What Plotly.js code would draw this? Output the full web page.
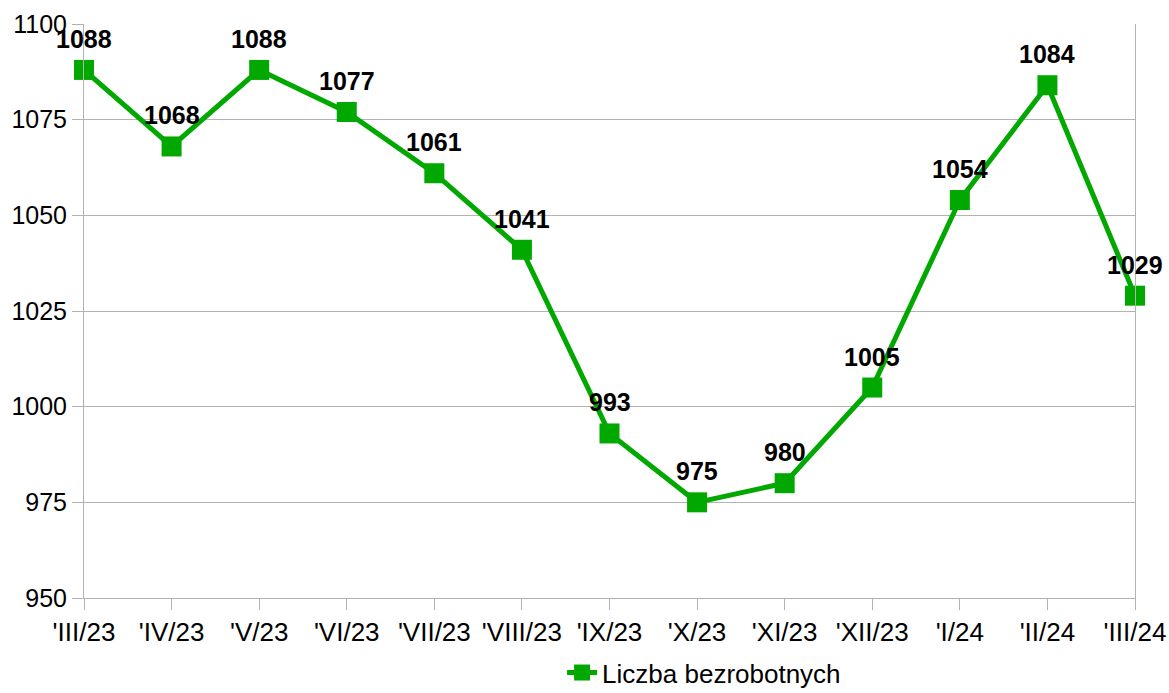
<!DOCTYPE html>
<html>
<head>
<meta charset="utf-8">
<script src="https://cdn.plot.ly/plotly-3.0.1.min.js"></script>
<style>html,body{margin:0;padding:0;background:#fff;}#chart{width:1169px;height:693px;}</style>
</head>
<body>
<div id="chart"></div>
<script>
const categories = ["'III/23","'IV/23","'V/23","'VI/23","'VII/23","'VIII/23","'IX/23","'X/23","'XI/23","'XII/23","'I/24","'II/24","'III/24"];
const values = [1088,1068,1088,1077,1061,1041,993,975,980,1005,1054,1084,1029];
const seriesName = "Liczba bezrobotnych";
const yTicks = [950,975,1000,1025,1050,1075,1100];

const green = "#00a800";
const font = "Liberation Sans, Arial, sans-serif";

const trace = {
  x: categories,
  y: values,
  type: "scatter",
  mode: "lines+markers",
  name: seriesName,
  line: {color: green, width: 5},
  marker: {symbol: "square", size: 20, color: green},
  cliponaxis: false
};

const annotations = categories.map((c, i) => ({
  x: c, y: values[i], xref: "x", yref: "y",
  text: String(values[i]), showarrow: false, yshift: 31,
  font: {family: font, size: 25, color: "#000", weight: "bold"}
}));

const layout = {
  width: 1169, height: 693,
  margin: {l: 84, r: 34, t: 24, b: 95, autoexpand: false},
  paper_bgcolor: "#fff", plot_bgcolor: "#fff",
  showlegend: true,
  legend: {orientation: "h", x: 0.59, xanchor: "center", y: -0.13, yanchor: "middle",
           font: {family: font, size: 26, color: "#000"}},
  xaxis: {
    type: "category", range: [0, categories.length - 1],
    showgrid: false, showline: true, linecolor: "#b3b3b3", linewidth: 1,
    ticks: "outside", ticklen: 11, tickcolor: "#b3b3b3",
    tickfont: {family: font, size: 26, color: "#000"}, zeroline: false
  },
  yaxis: {
    range: [950, 1100], tickvals: yTicks,
    showgrid: true, gridcolor: "#b3b3b3", gridwidth: 1,
    showline: true, linecolor: "#b3b3b3", linewidth: 1, mirror: true,
    ticks: "outside", ticklen: 11, tickcolor: "#b3b3b3",
    tickfont: {family: font, size: 25, color: "#000"}, zeroline: false
  },
  annotations: annotations
};

Plotly.newPlot("chart", [trace], layout, {displayModeBar: false, staticPlot: true});
</script>
</body>
</html>
